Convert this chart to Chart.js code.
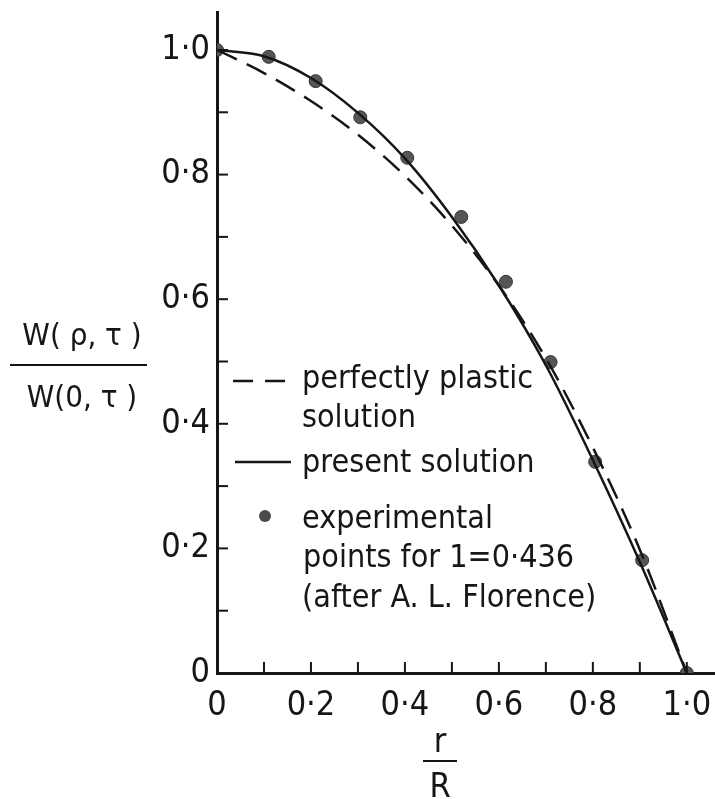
<!DOCTYPE html>
<html>
<head>
<meta charset="utf-8">
<script src="https://cdn.jsdelivr.net/npm/chart.js@4"></script>
<style>
  body { margin: 0; background: #fff; }
  canvas { display: block; }
</style>
</head>
<body>
<canvas id="plateChart" width="715" height="799"></canvas>
<script>
const rGrid = [0, 0.1, 0.2, 0.3, 0.4, 0.5, 0.6, 0.7, 0.8, 0.9, 1.0];
const presentSolution = [1.0, 0.99, 0.955, 0.899, 0.826, 0.732, 0.622, 0.494, 0.342, 0.178, 0.0];
const plasticSolution = [1.0, 0.963, 0.918, 0.864, 0.798, 0.718, 0.622, 0.505, 0.362, 0.198, 0.0];

// experimental points (A. L. Florence)
const expR = [0, 0.11, 0.21, 0.305, 0.405, 0.52, 0.615, 0.71, 0.805, 0.905, 1.0];
const expW = [1.0, 0.989, 0.95, 0.892, 0.827, 0.732, 0.628, 0.499, 0.339, 0.181, 0.0];

const xTickText = ["0", "0·2", "0·4", "0·6", "0·8", "1·0"];
const yTickText = ["0", "0·2", "0·4", "0·6", "0·8", "1·0"];

const FONT = "'Liberation Sans Narrow', 'DejaVu Sans Condensed', sans-serif";
const INK = "#161616";

function toPoints(xs, ys) {
  return xs.map((x, i) => ({ x: x, y: ys[i] }));
}

function tickLabel(list) {
  return function (value, index) {
    return index % 2 === 0 ? list[index / 2] : "";
  };
}

// inward tick marks every 0.1
const inwardTicks = {
  id: "inwardTicks",
  afterDraw(chart) {
    const ctx = chart.ctx;
    const xs = chart.scales.x;
    const ys = chart.scales.y;
    const area = chart.chartArea;
    ctx.save();
    ctx.strokeStyle = INK;
    ctx.lineWidth = 2;
    xs.ticks.forEach((t) => {
      if (t.value === 0) return;
      const px = xs.getPixelForValue(t.value);
      ctx.beginPath();
      ctx.moveTo(px, area.bottom);
      ctx.lineTo(px, area.bottom - 11);
      ctx.stroke();
    });
    ys.ticks.forEach((t) => {
      if (t.value === 0) return;
      const py = ys.getPixelForValue(t.value);
      ctx.beginPath();
      ctx.moveTo(area.left, py);
      ctx.lineTo(area.left + 11, py);
      ctx.stroke();
    });
    ctx.restore();
  },
};

// axis titles (fractions) and the key drawn inside the plot
const annotations = {
  id: "annotations",
  afterDraw(chart) {
    const ctx = chart.ctx;
    ctx.save();
    ctx.fillStyle = INK;
    ctx.strokeStyle = INK;

    // y title: W(rho, tau) / W(0, tau)
    ctx.font = "31px " + FONT;
    ctx.textAlign = "center";
    ctx.textBaseline = "alphabetic";
    ctx.fillText("W( ρ, τ )", 82, 345);
    ctx.fillText("W(0, τ )", 82, 407);
    ctx.lineWidth = 2;
    ctx.beginPath();
    ctx.moveTo(10, 365);
    ctx.lineTo(147, 365);
    ctx.stroke();

    // x title: r / R
    ctx.font = "34px " + FONT;
    ctx.fillText("r", 440, 752);
    ctx.fillText("R", 440, 797);
    ctx.beginPath();
    ctx.moveTo(423, 761);
    ctx.lineTo(457, 761);
    ctx.stroke();

    // key
    ctx.textAlign = "left";
    ctx.font = "32px " + FONT;
    ctx.fillText("perfectly plastic", 302, 388);
    ctx.fillText("solution", 302, 427);
    ctx.fillText("present solution", 302, 472);
    ctx.fillText("experimental", 302, 528);
    ctx.fillText("points for 1=0·436", 303, 567);
    ctx.fillText("(after A. L. Florence)", 302, 607);

    ctx.lineWidth = 2.5;
    ctx.setLineDash([20, 12]);
    ctx.beginPath();
    ctx.moveTo(233, 381);
    ctx.lineTo(289, 381);
    ctx.stroke();
    ctx.setLineDash([]);
    ctx.beginPath();
    ctx.moveTo(235, 462);
    ctx.lineTo(291, 462);
    ctx.stroke();
    ctx.fillStyle = "#4a4a4a";
    ctx.beginPath();
    ctx.arc(265, 516, 6, 0, Math.PI * 2);
    ctx.fill();
    ctx.restore();
  },
};

const ctx = document.getElementById("plateChart").getContext("2d");

new Chart(ctx, {
  type: "scatter",
  data: {
    datasets: [
      {
        label: "present solution",
        data: toPoints(rGrid, presentSolution),
        showLine: true,
        borderColor: INK,
        borderWidth: 2.5,
        pointRadius: 0,
        cubicInterpolationMode: "monotone",
      },
      {
        label: "perfectly plastic solution",
        data: toPoints(rGrid, plasticSolution),
        showLine: true,
        borderColor: INK,
        borderWidth: 2.5,
        borderDash: [22, 11],
        pointRadius: 0,
        cubicInterpolationMode: "monotone",
      },
      {
        label: "experimental points",
        data: toPoints(expR, expW),
        showLine: false,
        pointRadius: 6.5,
        pointBackgroundColor: "#555",
        pointBorderColor: "#333",
        pointBorderWidth: 1,
      },
    ],
  },
  options: {
    responsive: false,
    animation: false,
    layout: { autoPadding: false, padding: { top: 12.6, right: 0, left: 0, bottom: 0 } },
    plugins: {
      legend: { display: false },
      tooltip: { enabled: false },
    },
    scales: {
      x: {
        type: "linear",
        min: 0,
        max: 1.06,
        afterFit(scale) {
          scale.height = 126;
          scale.paddingLeft = 0;
          scale.paddingRight = 0;
        },
        grid: { display: false, drawTicks: false, tickLength: 0 },
        border: { display: true, color: INK, width: 3 },
        ticks: {
          stepSize: 0.1,
          includeBounds: false,
          autoSkip: false,
          maxRotation: 0,
          color: INK,
          padding: 13,
          font: { family: FONT, size: 34 },
          callback: tickLabel(xTickText),
        },
      },
      y: {
        type: "linear",
        min: 0,
        max: 1.06,
        afterFit(scale) {
          scale.width = 217;
          scale.paddingTop = 0;
          scale.paddingBottom = 0;
        },
        grid: { display: false, drawTicks: false, tickLength: 0 },
        border: { display: true, color: INK, width: 3 },
        ticks: {
          stepSize: 0.1,
          includeBounds: false,
          autoSkip: false,
          color: INK,
          padding: 7,
          font: { family: FONT, size: 34 },
          callback: tickLabel(yTickText),
        },
      },
    },
  },
  plugins: [inwardTicks, annotations],
});
</script>
</body>
</html>
